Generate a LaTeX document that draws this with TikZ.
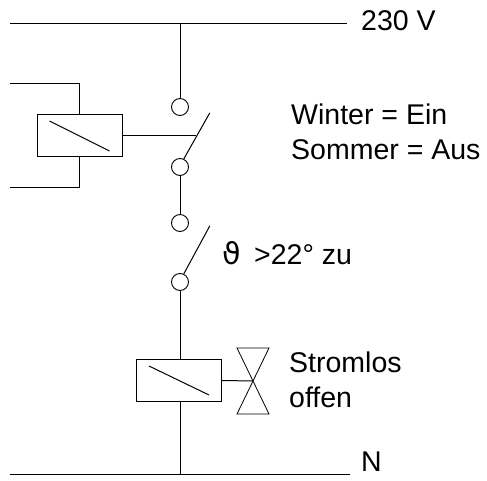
\documentclass[tikz,border=0pt]{standalone}
\usepackage{fontspec}
\setmainfont{Liberation Sans}
\newfontfamily\symfont{DejaVu Sans}
\usepackage{tikz}

\tikzset{
  wire/.style={draw=black,line width=1pt},
  contact/.style={circle,draw=black,line width=0.9pt,minimum size=17pt,inner sep=0pt},
  relay/.style={rectangle,draw=black,line width=1pt,minimum width=85pt,minimum height=42pt,inner sep=0pt},
  label/.style={anchor=base west,inner sep=0pt,font=\fontsize{28.5}{34}\selectfont}
}

\begin{document}
\begin{tikzpicture}[y=1pt,x=1pt,yscale=-1]
  \useasboundingbox (0,0) rectangle (487,481);

  % supply lines
  \coordinate (phaseL) at (10,24);
  \coordinate (phaseR) at (347,24);
  \coordinate (phaseT) at (180,24);
  \coordinate (neutL) at (10,474);
  \coordinate (neutR) at (350,474);
  \coordinate (neutT) at (180,474);
  \path[wire] (phaseL) -- (phaseR);
  \path[wire] (neutL) -- (neutR);
  \node[label] (text230) at (361,31) {230 V};
  \node[label] (textN) at (361,471) {N};

  % contacts
  \node[contact] (contA) at (180,107) {};
  \node[contact] (contB) at (180,167) {};
  \node[contact] (contC) at (180,223) {};
  \node[contact] (contD) at (180,282) {};

  % relays
  \node[relay] (relayS) at (79.5,136) {};
  \node[relay] (relayV) at (179,380.5) {};
  \path[wire] (relayS.center) +(-30,-15) -- +(30,15);
  \path[wire] (relayV.center) +(-30,-14.5) -- +(30,14.5);

  % switch blades
  \path[wire] (contB.65) -- ++(26,-46) coordinate (bladeS);
  \path[wire] (contD.65) -- ++(26,-48) coordinate (bladeT);
  \coordinate (linkS) at (196,136);
  \path[wire] (relayS.east) -- (linkS);

  % winter/summer relay feed
  \coordinate (feedA) at (10,84);
  \coordinate (feedB) at (10,188);
  \path[wire] (relayS.north) |- (feedA);
  \path[wire] (relayS.south) |- (feedB);

  % main branch
  \path[wire] (phaseT) -- (contA.north);
  \path[wire] (contB.south) -- (contC.north);
  \path[wire] (contD.south) -- (relayV.north -| contD.south);
  \path[wire] (relayV.south -| neutT) -- (neutT);

  % valve
  \coordinate (valve) at (253,381);
  \path[draw=black,line width=0.8pt] (237,348) -- (269,348) -- (237,414) -- (269,414) -- cycle;
  \path[wire] (relayV.east) -- (valve);

  % texts
  \node[label] (textWin) at (291,125) {Winter = Ein};
  \node[label] (textSom) at (291,160) {Sommer = Aus};
  \node[label,font=\fontsize{30}{36}\symfont] (textTheta) at (222,264) {ϑ};
  \node[label] (textTemp) at (254,264) {>22° zu};
  \node[label] (textStr) at (289,372) {Stromlos};
  \node[label] (textOff) at (289,407) {offen};

\end{tikzpicture}
\end{document}
